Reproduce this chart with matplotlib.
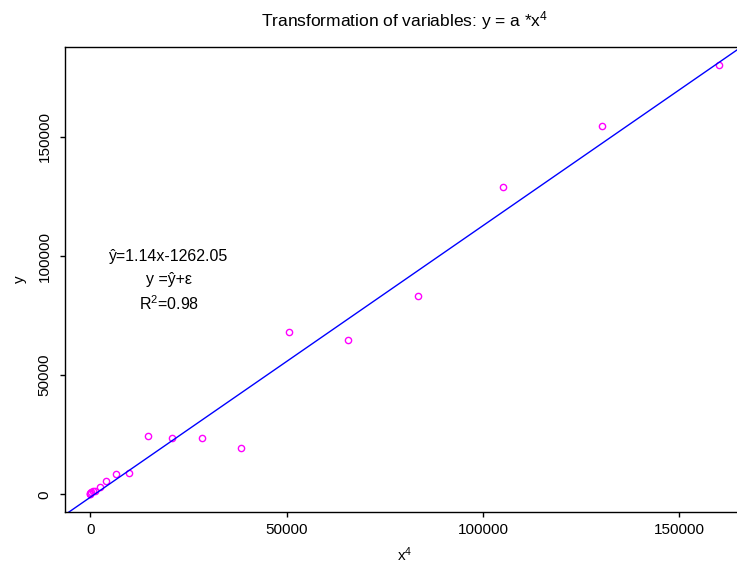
import matplotlib
matplotlib.use("Agg")
import matplotlib.pyplot as plt

plt.rcParams['font.family'] = ['Liberation Sans', 'DejaVu Sans']
plt.rcParams['mathtext.fontset'] = 'custom'
plt.rcParams['mathtext.rm'] = 'Liberation Sans'
plt.rcParams['mathtext.it'] = 'Liberation Sans'

# x^4 values (x = 1..20) and observed y
x4 = [1, 16, 81, 256, 625, 1296, 2401, 4096, 6561, 10000,
      14641, 20736, 28561, 38416, 50625, 65536, 83521, 104976, 130321, 160000]
y = [200, 500, 300, 800, 1200, 1500, 3070, 5760, 8400, 8820,
     24370, 23530, 23530, 19330, 68070, 64700, 83190, 129000, 154620, 180250]

# fitted line
slope = 1.14
intercept = -1262.05

xticks = [0, 50000, 100000, 150000]
yticks = [0, 50000, 100000, 150000]

fig = plt.figure(figsize=(7.37, 5.70), dpi=100)
ax = fig.add_axes([0.0882, 0.1026, 0.921, 0.8141])

ax.plot(x4, y, linestyle='none', marker='o', markersize=4.5, markerfacecolor='none',
        markeredgecolor='#ff00ff', markeredgewidth=1.0)

xlim = (-6400, 166400)
ax.set_xlim(xlim)
ax.set_ylim(-7200, 187500)
ax.plot(xlim, [intercept + slope * v for v in xlim], color='blue', linewidth=1)

ax.text(20000, 100000, "ŷ=1.14x-1262.05", ha='center', va='center', fontsize=11.5)
ax.text(20000, 90000, "y =ŷ+ε", ha='center', va='center', fontsize=11.5)
ax.text(20000, 80000, "R$^2$=0.98", ha='center', va='center', fontsize=11.5)

ax.set_xticks(xticks)
ax.set_yticks(yticks)
ax.set_xticklabels([str(v) for v in xticks])
ax.set_yticklabels([str(v) for v in yticks], rotation=90, va='center')
ax.tick_params(direction='out', length=3.6, width=1, labelsize=11)
ax.tick_params(axis='x', pad=5)
ax.tick_params(axis='y', pad=6)
for s in ax.spines.values():
    s.set_linewidth(1)

ax.set_title("Transformation of variables: y = a *x$^4$", fontsize=12.5, pad=15)
ax.set_xlabel("x$^4$", fontsize=11, labelpad=6)
ax.set_ylabel("y", fontsize=11, labelpad=8)

fig.savefig("out.png", dpi=100)
